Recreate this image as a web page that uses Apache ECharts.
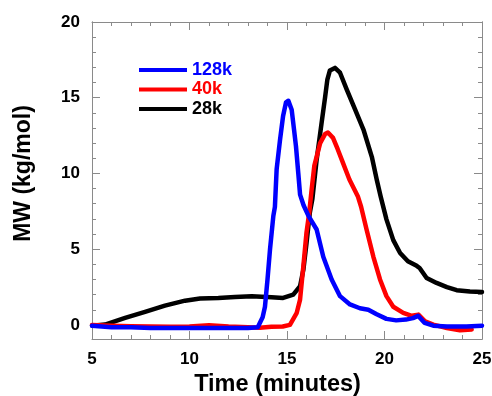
<!DOCTYPE html>
<html>
<head>
<meta charset="utf-8">
<script src="https://cdn.jsdelivr.net/npm/echarts@6/dist/echarts.min.js"></script>
<style>html,body{margin:0;padding:0;background:#fff}#c{width:492px;height:396px}</style>
</head>
<body>
<div id="c"></div>
<script>
var seriesNames = ['128k', '40k', '28k'];
var seriesColors = ['#0000ff', '#ff0000', '#000000'];
var xTickLabels = [5, 10, 15, 20, 25];
var yTickLabels = [0, 5, 10, 15, 20];
var yMinorTicks = [1, 2, 3, 4, 6, 7, 8, 9, 11, 12, 13, 14, 16, 17, 18, 19];

var mw128k = [
  [5, -0.05], [6, -0.15], [7, -0.15], [8, -0.2], [9, -0.2], [10, -0.2], [11, -0.2], [12, -0.2],
  [13, -0.2], [13.5, -0.15], [13.6, -0.1], [13.75, 0.5], [13.87, 1.2], [14.0, 3.0], [14.13, 5.0],
  [14.3, 7.2], [14.38, 7.8], [14.47, 10.3], [14.64, 12.2], [14.8, 13.8], [14.95, 14.7], [15.07, 14.8],
  [15.24, 14.2], [15.36, 12.9], [15.46, 11.8], [15.58, 10.0], [15.67, 8.6], [15.85, 7.9], [16.1, 7.2],
  [16.52, 6.3], [16.86, 4.5], [17.29, 3.0], [17.72, 1.9], [18.23, 1.35], [18.74, 1.1], [19.17, 1.0],
  [19.6, 0.7], [20.1, 0.4], [20.6, 0.3], [21.1, 0.35], [21.46, 0.45], [21.72, 0.6], [22.06, 0.13],
  [22.5, -0.05], [23.2, -0.1], [24.2, -0.1], [25, -0.05]
];
var mw40k = [
  [5, 0.0], [6, -0.05], [7, -0.08], [8, -0.1], [9, -0.12], [10, -0.1], [11, -0.02], [12, -0.1],
  [13, -0.15], [13.6, -0.18], [14.2, -0.12], [14.78, -0.1], [15.15, 0.0], [15.5, 0.8], [15.67, 1.67],
  [15.84, 3.9], [16.0, 6.1], [16.14, 7.4], [16.26, 8.9], [16.4, 10.5], [16.7, 12.0], [16.95, 12.6],
  [17.1, 12.7], [17.36, 12.35], [17.6, 11.6], [17.87, 10.7], [18.2, 9.6], [18.63, 8.5], [18.8, 7.8],
  [19.08, 6.3], [19.43, 4.5], [19.77, 3.0], [20.1, 1.9], [20.45, 1.2], [20.96, 0.8], [21.4, 0.6],
  [21.74, 0.68], [22.08, 0.24], [22.5, 0.02], [23.2, -0.2], [23.87, -0.36], [24.47, -0.3]
];
var mw28k = [
  [5, -0.05], [5.67, 0.02], [6.7, 0.46], [7.72, 0.86], [8.74, 1.27], [9.77, 1.6], [10.54, 1.74],
  [11.48, 1.78], [12.33, 1.85], [13.19, 1.89], [14.2, 1.82], [14.8, 1.78], [15.32, 2.0], [15.67, 2.55],
  [15.84, 3.65], [16.0, 5.4], [16.17, 7.4], [16.3, 8.3], [16.52, 10.9], [16.77, 13.3], [16.95, 15.0],
  [17.07, 16.2], [17.2, 16.8], [17.46, 16.97], [17.72, 16.65], [18.06, 15.55], [18.5, 14.2],
  [18.92, 12.9], [19.35, 11.1], [19.6, 9.6], [19.8, 8.5], [20.1, 6.97], [20.45, 5.6], [20.8, 4.75],
  [21.2, 4.2], [21.65, 3.9], [21.8, 3.76], [22.16, 3.1], [22.67, 2.77], [23.2, 2.5], [23.7, 2.29],
  [24.38, 2.2], [25, 2.18]
];
var seriesData = [mw128k, mw40k, mw28k];

var FONT = '"Liberation Sans", Arial, sans-serif';
var axisGray = '#8a8a8a';
var yMin = -0.93, yMax = 20;

function xAx(pos, labels) {
  return {
    type: 'value', position: pos, min: 5, max: 25, interval: 5,
    axisLine: { show: true, onZero: false, lineStyle: { color: axisGray, width: 1 } },
    axisTick: { show: true, inside: true, length: 8, lineStyle: { color: axisGray } },
    minorTick: { show: true, splitNumber: 5, length: 4, lineStyle: { color: axisGray } },
    splitLine: { show: false },
    axisLabel: labels ? {
      show: true, margin: 12, color: '#000', fontFamily: FONT, fontWeight: 'bold', fontSize: 17,
      customValues: xTickLabels
    } : { show: false },
    name: labels ? 'Time (minutes)' : '',
    nameLocation: 'middle', nameGap: 30,
    nameTextStyle: { color: '#000', fontFamily: FONT, fontWeight: 'bold', fontSize: 23.5, padding: [0, 19, 0, 0] }
  };
}
function yAx(pos, values, len, labels) {
  return {
    type: 'value', position: pos, min: yMin, max: yMax,
    axisLine: { show: true, onZero: false, lineStyle: { color: axisGray, width: 1 } },
    axisTick: { show: true, inside: true, length: len, customValues: values, lineStyle: { color: axisGray } },
    splitLine: { show: false },
    axisLabel: labels ? {
      show: true, margin: 12, color: '#000', fontFamily: FONT, fontWeight: 'bold', fontSize: 17,
      customValues: yTickLabels
    } : { show: false },
    name: labels ? 'MW (kg/mol)' : '',
    nameLocation: 'middle', nameGap: 57, nameRotate: 90,
    nameTextStyle: { color: '#000', fontFamily: FONT, fontWeight: 'bold', fontSize: 23, padding: [0, 0, 0, 14] }
  };
}

var chart = echarts.init(document.getElementById('c'), null, { renderer: 'canvas' });
chart.setOption({
  animation: false,
  backgroundColor: '#fff',
  grid: { left: 92, right: 10, top: 22, bottom: 57, containLabel: false, outerBoundsMode: 'none' },
  legend: {
    orient: 'vertical', left: 139, top: 61, padding: 0, itemWidth: 48, itemHeight: 4, itemGap: 1.5,
    icon: 'rect',
    textStyle: { fontFamily: FONT, fontWeight: 'bold', fontSize: 18, lineHeight: 18 },
    data: seriesNames.map(function (n, i) { return { name: n, textStyle: { color: seriesColors[i] } }; })
  },
  xAxis: [xAx('bottom', true), xAx('top', false)],
  yAxis: [
    yAx('left', yTickLabels, 8, true),
    yAx('left', yMinorTicks, 4, false),
    yAx('right', yTickLabels, 8, false),
    yAx('right', yMinorTicks, 4, false)
  ],
  series: seriesNames.map(function (n, i) {
    return {
      name: n, type: 'line', data: seriesData[i], xAxisIndex: 0, yAxisIndex: 0,
      showSymbol: false, symbol: 'none', smooth: false,
      lineStyle: { color: seriesColors[i], width: 4.5, join: 'round', cap: 'round' },
      itemStyle: { color: seriesColors[i] },
      z: 3 - i
    };
  })
});
</script>
</body>
</html>
